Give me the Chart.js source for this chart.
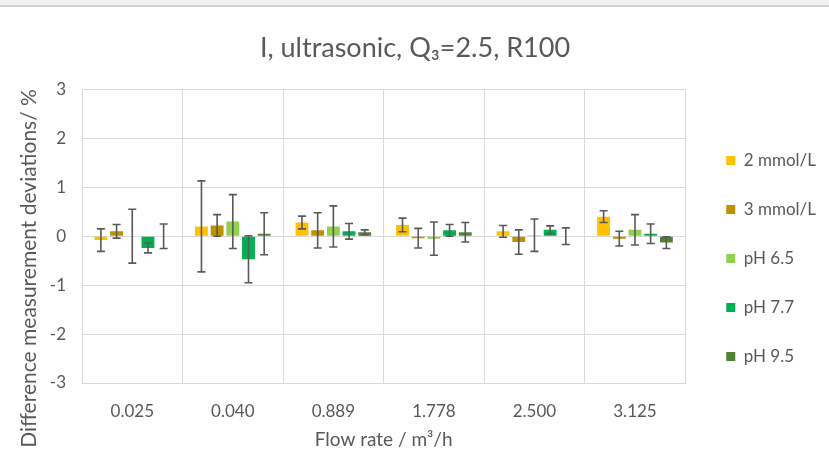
<!DOCTYPE html>
<html>
<head>
<meta charset="utf-8">
<title>I, ultrasonic, Q3=2.5, R100</title>
<script src="https://cdn.jsdelivr.net/npm/chart.js@4/dist/chart.umd.min.js"></script>
<style>
  html, body { margin: 0; padding: 0; background: #fff; }
  #wrap { position: absolute; left: 0; top: 0; width: 829px; height: 451px; }
  #band { position: absolute; left: 0; top: 0; width: 829px; height: 5px; background: #f1f1f1; border-bottom: 2px solid #d2d2d2; z-index: 2; }
</style>
</head>
<body>
<div id="wrap">
  <div id="band"></div>
  <canvas id="chart" width="829" height="451"></canvas>
</div>
<script>
// flow rates (m³/h)
const categories = ['0.025', '0.040', '0.889', '1.778', '2.500', '3.125'];

// mean deviation (%) and error bar half-width per series
const mmol2 = [-0.08, 0.20, 0.28, 0.23, 0.10, 0.40];
const mmol2Err = [0.23, 0.93, 0.13, 0.14, 0.12, 0.12];
const mmol3 = [0.10, 0.22, 0.12, -0.04, -0.12, -0.05];
const mmol3Err = [0.14, 0.22, 0.36, 0.20, 0.25, 0.15];
const ph65 = [0.00, 0.30, 0.20, -0.05, 0.02, 0.13];
const ph65Err = [0.55, 0.55, 0.42, 0.34, 0.33, 0.31];
const ph77 = [-0.24, -0.47, 0.10, 0.12, 0.13, 0.05];
const ph77Err = [0.10, 0.48, 0.16, 0.12, 0.08, 0.20];
const ph95 = [0.00, 0.05, 0.08, 0.08, 0.00, -0.13];
const ph95Err = [0.25, 0.43, 0.05, 0.20, 0.17, 0.12];

const yTicks = [-3, -2, -1, 0, 1, 2, 3];

const FONT = 'Lato, "Open Sans", sans-serif';
const GREY = '#595959';
const GRID = '#d9d9d9';

function series(label, data, errs, color) {
  return { label, data, errs, backgroundColor: color, borderWidth: 0 };
}

// whiskers drawn through the y scale
const errorBars = {
  id: 'errorBars',
  afterDatasetsDraw(chart) {
    const ctx = chart.ctx;
    const y = chart.scales.y;
    ctx.save();
    ctx.strokeStyle = GREY;
    ctx.lineWidth = 1.6;
    chart.data.datasets.forEach((ds, di) => {
      const meta = chart.getDatasetMeta(di);
      meta.data.forEach((bar, i) => {
        const v = ds.data[i], e = ds.errs[i];
        const top = y.getPixelForValue(v + e);
        const bot = y.getPixelForValue(v - e);
        const x = bar.x, cap = 4;
        ctx.beginPath();
        ctx.moveTo(x, top); ctx.lineTo(x, bot);
        ctx.moveTo(x - cap, top); ctx.lineTo(x + cap, top);
        ctx.moveTo(x - cap, bot); ctx.lineTo(x + cap, bot);
        ctx.stroke();
      });
    });
    ctx.restore();
  }
};

// nudge legend a little right and down, like the Excel original
const legendNudge = {
  id: 'legendNudge',
  afterLayout(chart) {
    const lg = chart.legend;
    if (!lg) return;
    lg.left += 9; lg.right += 9;
    lg.top += 33; lg.bottom += 33;
  }
};

// axis title sits lower than the middle of the axis in the original
const yTitle = 'Difference measurement deviations/ %' + '\u00a0'.repeat(12);

new Chart(document.getElementById('chart'), {
  type: 'bar',
  data: {
    labels: categories,
    datasets: [
      series('2 mmol/L', mmol2, mmol2Err, '#FFC000'),
      series('3 mmol/L', mmol3, mmol3Err, '#BF9000'),
      series('pH 6.5', ph65, ph65Err, '#92D050'),
      series('pH 7.7', ph77, ph77Err, '#00B050'),
      series('pH 9.5', ph95, ph95Err, '#548235')
    ]
  },
  options: {
    responsive: false,
    animation: false,
    devicePixelRatio: 1,
    categoryPercentage: 0.78,
    barPercentage: 0.82,
    layout: { padding: { left: 13, right: 12, top: 0, bottom: 0 } },
    plugins: {
      title: {
        display: true,
        text: 'I, ultrasonic, Q\u2083=2.5, R100',
        color: GREY,
        font: { family: FONT, size: 27, weight: 'normal' },
        padding: { top: 32, bottom: 25 }
      },
      legend: {
        position: 'right',
        labels: {
          boxWidth: 9, boxHeight: 9, padding: 32,
          color: GREY,
          font: { family: FONT, size: 17 }
        }
      },
      tooltip: { enabled: false }
    },
    scales: {
      x: {
        afterFit: s => { s.height = 68; },
        grid: { color: GRID, drawTicks: false },
        border: { color: GRID },
        ticks: { color: GREY, padding: 18, maxRotation: 0, minRotation: 0, font: { family: FONT, size: 17 } },
        title: { display: true, text: 'Flow rate / m\u00b3/h', color: GREY, font: { family: FONT, size: 19 }, padding: { top: 8, bottom: 0 } }
      },
      y: {
        min: yTicks[0],
        max: yTicks[yTicks.length - 1],
        afterBuildTicks: s => { s.ticks = yTicks.map(v => ({ value: v })); },
        afterFit: s => { s.width = 69; },
        grid: { color: GRID, drawTicks: false },
        border: { color: GRID },
        ticks: { color: GREY, padding: 16, font: { family: FONT, size: 17 } },
        title: { display: true, text: yTitle, color: GREY, font: { family: FONT, size: 21 }, padding: 4 }
      }
    }
  },
  plugins: [errorBars, legendNudge]
});
</script>
</body>
</html>
